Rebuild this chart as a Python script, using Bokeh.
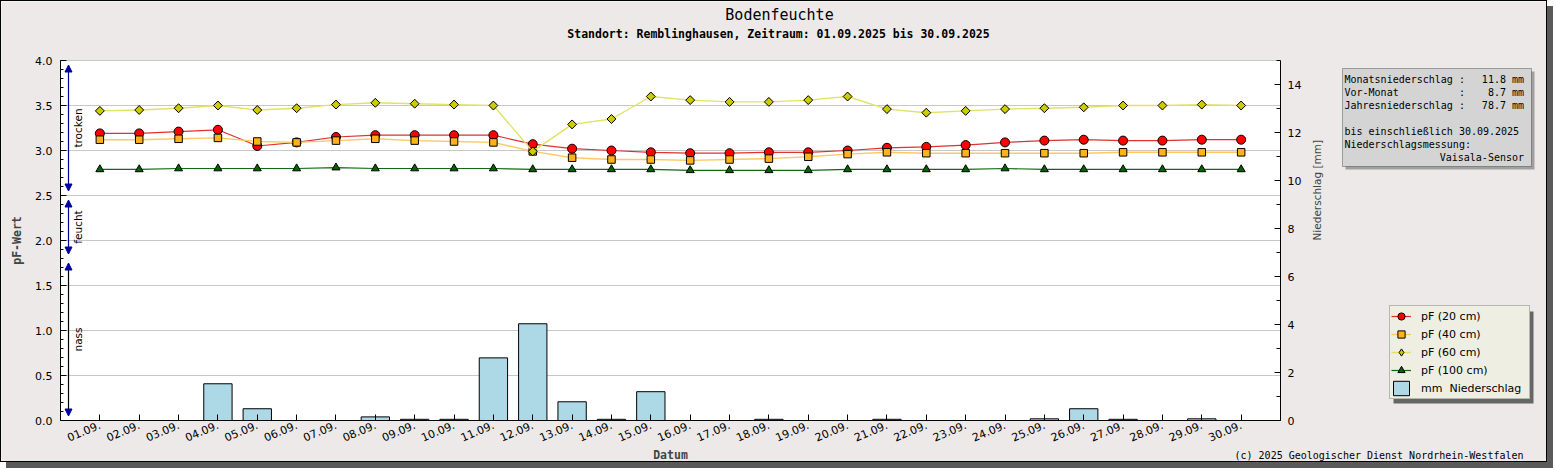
import numpy as np
from bokeh.plotting import figure
from bokeh.models import (Range1d, LinearAxis, SingleIntervalTicker, FixedTicker,
                          NumeralTickFormatter, Legend, LegendItem, Label, Arrow,
                          NormalHead, BoxAnnotation, Grid)
from bokeh.core.properties import value
from bokeh.embed import file_html
from bokeh.resources import INLINE

# ---------------- data ----------------
dates = ["01.09.", "02.09.", "03.09.", "04.09.", "05.09.", "06.09.", "07.09.",
         "08.09.", "09.09.", "10.09.", "11.09.", "12.09.", "13.09.", "14.09.",
         "15.09.", "16.09.", "17.09.", "18.09.", "19.09.", "20.09.", "21.09.",
         "22.09.", "23.09.", "24.09.", "25.09.", "26.09.", "27.09.", "28.09.",
         "29.09.", "30.09."]
pf20 = [3.19, 3.19, 3.21, 3.23, 3.05, 3.09, 3.15, 3.17, 3.17, 3.17, 3.17, 3.07,
        3.02, 3.00, 2.98, 2.97, 2.97, 2.98, 2.98, 3.00, 3.03, 3.04, 3.06, 3.09,
        3.11, 3.12, 3.11, 3.11, 3.12, 3.12]
pf40 = [3.12, 3.12, 3.13, 3.14, 3.10, 3.09, 3.11, 3.13, 3.11, 3.10, 3.09, 2.99,
        2.92, 2.90, 2.90, 2.89, 2.90, 2.91, 2.93, 2.96, 2.98, 2.97, 2.97, 2.97,
        2.97, 2.97, 2.98, 2.98, 2.98, 2.98]
pf60 = [3.44, 3.45, 3.47, 3.50, 3.45, 3.47, 3.51, 3.53, 3.52, 3.51, 3.50, 2.99,
        3.29, 3.35, 3.60, 3.56, 3.54, 3.54, 3.56, 3.60, 3.46, 3.42, 3.44, 3.46,
        3.47, 3.48, 3.50, 3.50, 3.51, 3.50]
pf100 = [2.79, 2.79, 2.80, 2.80, 2.80, 2.80, 2.81, 2.80, 2.80, 2.80, 2.80, 2.79,
         2.79, 2.79, 2.79, 2.78, 2.78, 2.78, 2.78, 2.79, 2.79, 2.79, 2.79, 2.80,
         2.79, 2.79, 2.79, 2.79, 2.79, 2.79]
precip = [0, 0, 0, 1.53, 0.49, 0, 0, 0.15, 0.05, 0.05, 2.61, 4.03, 0.78, 0.05,
          1.20, 0, 0, 0.05, 0, 0, 0.05, 0, 0, 0, 0.07, 0.49, 0.05, 0, 0.07, 0]

series_labels = ["pF (20 cm)", "pF (40 cm)", "pF (60 cm)", "pF (100 cm)"]
bar_label = "mm  Niederschlag"
zone_names = ["nass", "feucht", "trocken"]
zone_bounds = [0.0, 1.8, 2.5, 4.0]
pf_grid_values = [0.5, 1.0, 1.5, 2.0, 2.5, 3.0, 3.5, 4.0]
pf_limits = (0.0, 4.0)
mm_limits = (0.0, 15.0)

title_text = "Bodenfeuchte"
subtitle_text = "Standort: Remblinghausen, Zeitraum: 01.09.2025 bis 30.09.2025"
copyright_text = "(c) 2025 Geologischer Dienst Nordrhein-Westfalen"
info_names = ["Monatsniederschlag", "Vor-Monat", "Jahresniederschlag"]
info_values = ["11.8 mm", "8.7 mm", "78.7 mm"]
info_until = "bis einschließlich 30.09.2025"
info_measure = "Niederschlagsmessung:"
info_sensor = "Vaisala-Sensor"

# ---------------- layout geometry (pixels) ----------------
W, H = 1547, 462            # figure size (plus 1px css border)
FX0, FY0 = 1, 1             # page position of the figure content
PX_LEFT, PX_RIGHT = 60, 1280  # plot area in page pixels
PY_TOP, PY_BOTTOM = 60, 420
n_days = len(dates)
x_span = n_days + 1
dx = (PX_RIGHT - PX_LEFT) / x_span
dy_pf = (PY_BOTTOM - PY_TOP) / (pf_limits[1] - pf_limits[0])
dy_mm = (PY_BOTTOM - PY_TOP) / (mm_limits[1] - mm_limits[0])

x_rng = Range1d((FX0 - PX_LEFT) / dx, (FX0 + W - PX_LEFT) / dx)
y_rng = Range1d((PY_BOTTOM - (FY0 + H)) / dy_pf, (PY_BOTTOM - FY0) / dy_pf)
mm_rng = Range1d((PY_BOTTOM - (FY0 + H)) / dy_mm, (PY_BOTTOM - FY0) / dy_mm)


def sx(px):  # page x -> screen units of the frame
    return px - FX0


def sy(py):  # page y -> screen units of the frame (from bottom)
    return FY0 + H - py


def screen_box(left, right, top, bottom, **kw):
    return BoxAnnotation(left=sx(left), right=sx(right), top=sy(top),
                         bottom=sy(bottom), left_units="screen",
                         right_units="screen", top_units="screen",
                         bottom_units="screen", **kw)


BG = "#ECE9E8"
MONO = "DejaVu Sans Mono"
SANS = "DejaVu Sans"

p = figure(width=W, height=H, output_backend="svg", toolbar_location=None,
           x_range=x_rng, y_range=y_rng, x_axis_location=None,
           y_axis_location=None, min_border=0, background_fill_color=BG,
           border_fill_color=BG, outline_line_color=None)
p.styles = {"border": "1px solid #000000", "box-shadow": "6px 6px 0 #5A5A5A"}
p.extra_y_ranges = {"mm": mm_rng}
for r in list(p.center):
    if isinstance(r, Grid):
        r.visible = False

# plot area background
p.add_layout(BoxAnnotation(left=0, right=x_span, bottom=pf_limits[0],
                           top=pf_limits[1], fill_color="white", fill_alpha=1,
                           line_color=None, level="image"))
# horizontal grid lines
p.segment(x0=[0] * len(pf_grid_values), x1=[x_span] * len(pf_grid_values),
          y0=pf_grid_values, y1=pf_grid_values, line_color="#C8C8C8",
          line_width=1, level="underlay")

day = np.arange(1, n_days + 1)

# x axis
xa = LinearAxis(fixed_location=pf_limits[0], bounds=(0, x_span),
                ticker=FixedTicker(ticks=[int(d) for d in day]))
xa.major_label_overrides = {int(d): lab for d, lab in zip(day, dates)}
xa.major_label_orientation = 0.4
xa.major_label_text_font = SANS
xa.major_label_text_font_size = "11px"
xa.major_label_text_color = "black"
xa.major_label_standoff = 4
xa.major_tick_in = 6
xa.major_tick_out = 0
xa.minor_tick_line_color = None
xa.axis_line_color = "black"
xa.axis_label = "Datum"
xa.axis_label_text_font = MONO
xa.axis_label_text_font_style = "bold"
xa.axis_label_text_font_size = "11.5px"
xa.axis_label_standoff = 0
p.add_layout(xa, "below")

# left axis
ya = LinearAxis(fixed_location=0, bounds=pf_limits,
                ticker=SingleIntervalTicker(interval=0.5, num_minor_ticks=5),
                formatter=NumeralTickFormatter(format="0.0"))
ya.major_label_text_font = SANS
ya.major_label_text_font_size = "11px"
ya.major_label_text_color = "black"
ya.major_label_standoff = 8
ya.major_tick_in = 6
ya.major_tick_out = 0
ya.minor_tick_in = 3
ya.minor_tick_out = 0
ya.axis_line_color = "black"
ya.axis_label = "pF-Wert"
ya.axis_label_text_font = MONO
ya.axis_label_text_font_style = "bold"
ya.axis_label_text_font_size = "11.5px"
ya.axis_label_standoff = 8
p.add_layout(ya, "left")

# right axis
ra = LinearAxis(y_range_name="mm", fixed_location=x_span, bounds=mm_limits,
                ticker=SingleIntervalTicker(interval=2, num_minor_ticks=2),
                axis_label="Niederschlag [mm]")
ra.major_label_text_font = SANS
ra.major_label_text_font_size = "11px"
ra.major_label_text_color = "black"
ra.major_label_standoff = 7
ra.major_tick_in = 6
ra.major_tick_out = 0
ra.minor_tick_in = 4
ra.minor_tick_out = 0
ra.axis_line_color = "black"
ra.axis_label_text_font = SANS
ra.axis_label_text_font_style = "normal"
ra.axis_label_text_font_size = "10.5px"
ra.axis_label_standoff = 13
ra.axis_label_orientation = np.pi / 2
p.add_layout(ra, "right")

# ---------------- glyphs ----------------
bars = p.vbar(x=day, top=precip, width=0.72, y_range_name="mm",
              fill_color="#ADD8E6", line_color="black", line_width=1)

styles = [
    dict(marker="circle", size=9, angle=0, fill="#FF0000", line="#E03030", lw=1.2),
    dict(marker="square", size=7.5, angle=0, fill="#FFB31A", line="#FFC864", lw=1.4),
    dict(marker="square", size=6.3, angle=np.pi / 4, fill="#CCCC00",
         line="#E2E264", lw=1.4),
    dict(marker="triangle", size=8, angle=0, fill="#006400", line="#106A10", lw=1.2),
]
series = [pf20, pf40, pf60, pf100]
items = []
for vals, st, lab in zip(series, styles, series_labels):
    ln = p.line(day, vals, line_color=st["line"], line_width=st["lw"])
    leg = None
    if st["angle"] != 0:
        # diamond symbol for the legend, drawn underneath (hidden by) the
        # rotated squares in the plot area
        leg = p.scatter(day, vals, marker="diamond", size=8,
                        fill_color=st["fill"], line_color="black", line_width=1)
    sc = p.scatter(day, vals, marker=st["marker"], size=st["size"],
                   angle=st["angle"], fill_color=st["fill"], line_color="black",
                   line_width=1)
    items.append((lab, ln, leg if leg is not None else sc))

# zone arrows and labels (pF classes)
arrow_x = (68 - PX_LEFT) / dx
text_x = (77 - PX_LEFT) / dx
inset = 0.05
zone_line_colors = ["black", "#00009A", "#00009A"]
for lo, hi, lc in zip(zone_bounds[:-1], zone_bounds[1:], zone_line_colors):
    head_s = NormalHead(size=7, fill_color="#00009A", line_color="#00009A")
    head_e = NormalHead(size=7, fill_color="#00009A", line_color="#00009A")
    p.add_layout(Arrow(start=head_s, end=head_e, x_start=arrow_x, x_end=arrow_x,
                       y_start=lo + inset, y_end=hi - inset,
                       line_color=lc, line_width=1.2))
zone_centers = [(a + b) / 2 for a, b in zip(zone_bounds[:-1], zone_bounds[1:])]
p.text(x=[text_x] * len(zone_names), y=zone_centers, text=zone_names,
       angle=np.pi / 2, text_align="center", text_baseline="middle",
       text_font=value(SANS), text_font_size="10.5px", text_color="black")

# ---------------- legend (with shadow) ----------------
p.add_layout(screen_box(1393, 1533, 311, 403, fill_color="#666666",
                        fill_alpha=1, line_color=None))
legend_items = [LegendItem(label=lab, renderers=[ln, mk]) for lab, ln, mk in items]
legend_items.append(LegendItem(label=bar_label, renderers=[bars]))
legend = Legend(items=legend_items, location=(sx(1389), sy(399)),
                glyph_width=20, glyph_height=18, label_height=18, spacing=0,
                padding=1, label_standoff=10, label_width=107,
                label_text_font=SANS, label_text_font_size="11px",
                background_fill_color="#EEEEE2", background_fill_alpha=1,
                border_line_color="#7F7F7F", border_line_width=1,
                label_text_color="black")
p.add_layout(legend, "center")

# ---------------- info box ----------------
p.add_layout(screen_box(1345, 1534, 71, 169, fill_color="#A0A0A0",
                        fill_alpha=1, line_color=None))
p.add_layout(screen_box(1342, 1531, 68, 166, fill_color="#D4D4D4",
                        fill_alpha=1, line_color="black", line_width=1))
INFO_L, INFO_COLON, INFO_R = 1344, 1458.5, 1523.5
row_y = [79.3 + 13 * k for k in range(7)]
info_font = dict(x_units="screen", y_units="screen", text_font=MONO,
                 text_font_size="10px", text_baseline="middle",
                 text_color="black")
for k, (nm, val) in enumerate(zip(info_names, info_values)):
    p.add_layout(Label(x=sx(INFO_L), y=sy(row_y[k]), text=nm,
                       text_align="left", **info_font))
    p.add_layout(Label(x=sx(INFO_COLON), y=sy(row_y[k]), text=":",
                       text_align="left", **info_font))
    p.add_layout(Label(x=sx(INFO_R), y=sy(row_y[k]), text=val,
                       text_align="right", **info_font))
p.add_layout(Label(x=sx(INFO_L), y=sy(row_y[4]), text=info_until,
                   text_align="left", **info_font))
p.add_layout(Label(x=sx(INFO_L), y=sy(row_y[5]), text=info_measure,
                   text_align="left", **info_font))
p.add_layout(Label(x=sx(INFO_R), y=sy(row_y[6]), text=info_sensor,
                   text_align="right", **info_font))

# ---------------- titles ----------------
p.add_layout(Label(x=sx(779), y=sy(14), x_units="screen", y_units="screen",
                   text=title_text, text_font=MONO, text_font_size="15px",
                   text_align="center", text_baseline="middle",
                   text_color="black"))
p.add_layout(Label(x=sx(778), y=sy(33), x_units="screen", y_units="screen",
                   text=subtitle_text, text_font=MONO, text_font_size="11.5px",
                   text_font_style="bold", text_align="center",
                   text_baseline="middle", text_color="black"))
p.add_layout(Label(x=sx(1523), y=sy(455), x_units="screen", y_units="screen",
                   text=copyright_text, text_font=MONO, text_font_size="10px",
                   text_align="right", text_baseline="middle",
                   text_color="black"))

open("out.html", "w").write(file_html(p, INLINE))
